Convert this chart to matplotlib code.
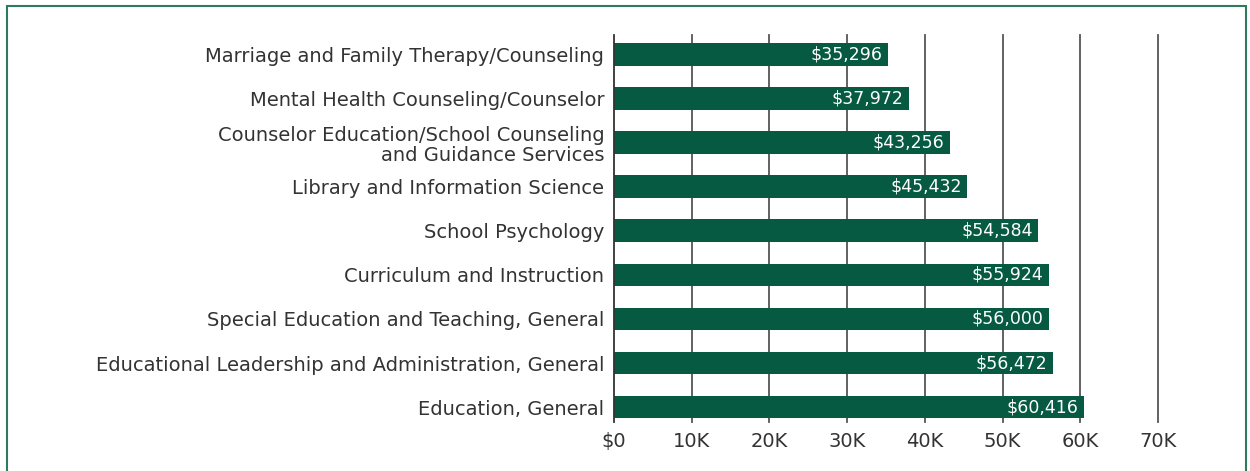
import matplotlib.pyplot as plt
from matplotlib.patches import Rectangle
import numpy as np

programs = ['Marriage and Family Therapy/Counseling',
            'Mental Health Counseling/Counselor',
            'Counselor Education/School Counseling\nand Guidance Services',
            'Library and Information Science',
            'School Psychology',
            'Curriculum and Instruction',
            'Special Education and Teaching, General',
            'Educational Leadership and Administration, General',
            'Education, General']
salaries = [35296, 37972, 43256, 45432, 54584, 55924, 56000, 56472, 60416]
tick_vals = [0, 10000, 20000, 30000, 40000, 50000, 60000, 70000]
tick_labels = ['$0', '10K', '20K', '30K', '40K', '50K', '60K', '70K']

bar_color = '#075a42'
text_color = '#333333'
plt.rcParams['font.family'] = ['DejaVu Sans']

fig = plt.figure(figsize=(12.5, 4.71), dpi=100)
fig.patches.append(Rectangle((7/1250, -0.05), 1239/1250, 1 - 6/471 + 0.05,
                             transform=fig.transFigure, fill=False,
                             edgecolor='#2f7a5c', linewidth=1.5))
ax = fig.add_axes([614/1250, 1 - 422/471, (1158 - 614)/1250, (422 - 35)/471])

y = np.arange(len(programs))
for xv in tick_vals[1:]:
    ax.axvline(xv, color='#555555', linewidth=1.3, zorder=0, clip_on=False)
rects = ax.barh(y, salaries, height=0.52, color=bar_color, zorder=2)
for r, v in zip(rects, salaries):
    ax.text(v - 700, r.get_y() + r.get_height() / 2, '${:,}'.format(v),
            color='white', fontsize=12.5, ha='right', va='center', zorder=3)

ax.set_xlim(0, 70000)
ax.set_ylim(len(programs) - 1 + 0.34, -0.45)
ax.set_yticks(y, programs, fontsize=14, color=text_color, linespacing=1.1)
ax.set_xticks(tick_vals, tick_labels, fontsize=14, color=text_color)
ax.tick_params(length=0, pad=7)
for s in ['top', 'right', 'bottom']:
    ax.spines[s].set_visible(False)
ax.spines['left'].set_color('#333333')
ax.spines['left'].set_linewidth(1.3)

plt.savefig('out.png')
